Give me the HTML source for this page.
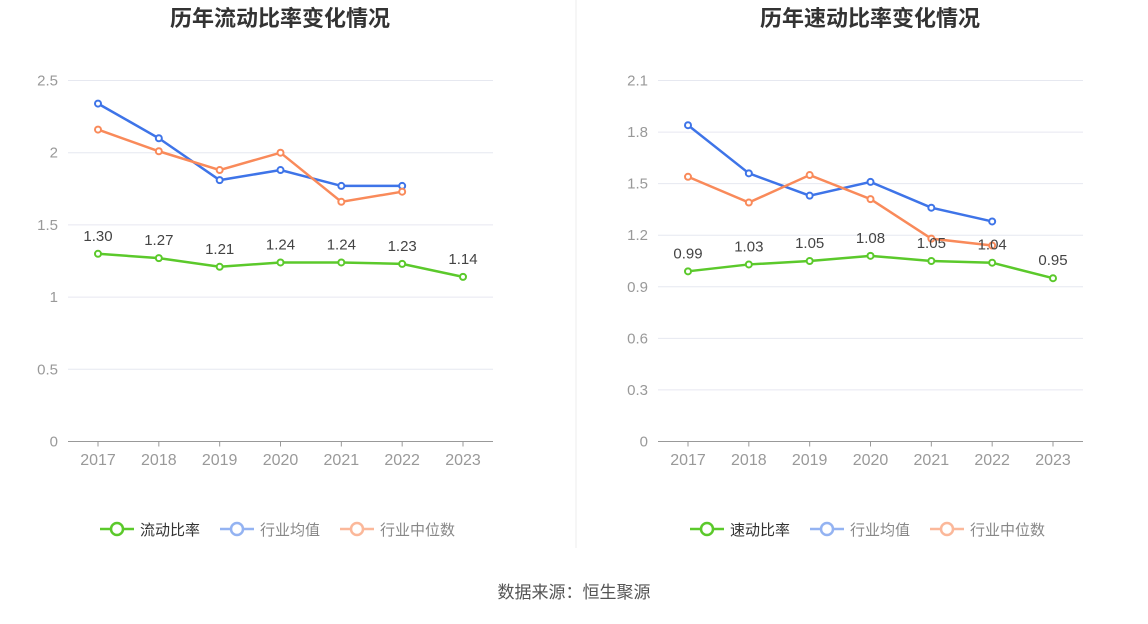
<!DOCTYPE html>
<html><head><meta charset="utf-8">
<style>
body{margin:0;background:#fff;font-family:"Liberation Sans","Noto Sans CJK SC",sans-serif;}
svg text{font-family:"Liberation Sans","Noto Sans CJK SC",sans-serif;}
</style></head>
<body>
<svg id="c" width="1148" height="619" viewBox="0 0 1148 619" xmlns="http://www.w3.org/2000/svg">
<rect width="1148" height="619" fill="#fff"/>
<line x1="576" y1="0" x2="576" y2="548" stroke="#eee" stroke-width="1"/>
<text x="574" y="598" text-anchor="middle" font-size="17" fill="#555">数据来源：恒生聚源</text>
</svg>
<script>
const years=["2017","2018","2019","2020","2021","2022","2023"];
const leftTicks=[0,0.5,1,1.5,2,2.5];
const leftMain=[1.30,1.27,1.21,1.24,1.24,1.23,1.14];
const leftAvg=[2.34,2.10,1.81,1.88,1.77,1.77];
const leftMed=[2.16,2.01,1.88,2.00,1.66,1.73];
const rightTicks=[0,0.3,0.6,0.9,1.2,1.5,1.8,2.1];
const rightMain=[0.99,1.03,1.05,1.08,1.05,1.04,0.95];
const rightAvg=[1.84,1.56,1.43,1.51,1.36,1.28];
const rightMed=[1.54,1.39,1.55,1.41,1.18,1.14];

const svg=document.getElementById('c');
const NS="http://www.w3.org/2000/svg";
function mk(t,a){const e=document.createElementNS(NS,t);for(const k in a)e.setAttribute(k,a[k]);svg.appendChild(e);return e;}

function panel(p,title,mainName,ticks,main,avg,med,fmtTick){
  const x0=p.ax0,x1=p.ax0+425,yb=441.5,yt=80.5,max=ticks[ticks.length-1];
  const X=i=>p.ax0+30+i*(365/6);
  const Y=v=>yb-(v/max)*(yb-yt);
  let t=mk('text',{x:p.cx,y:26,'text-anchor':'middle','font-size':22,'font-weight':'bold',fill:'#333'});
  t.textContent=title;
  
  
  ticks.forEach(v=>{
    const g=mk('line',{x1:x0,x2:x1,y1:Y(v),y2:Y(v),stroke:v===0?'#999':'#e6e8f0','stroke-width':1});
    
    
    const l=mk('text',{x:x0-10,y:Y(v)+5,'text-anchor':'end','font-size':15,fill:'#999'});
    l.textContent=fmtTick(v);
    
    
  });
  years.forEach((yr,i)=>{
    const tk=mk('line',{x1:X(i),x2:X(i),y1:yb,y2:yb+5,stroke:'#999'});
    
    
    const l=mk('text',{x:X(i),y:465,'text-anchor':'middle','font-size':16,fill:'#999'});
    l.textContent=yr;
    
    
  });
  function series(data,color,name,labels){
    const pl=mk('polyline',{points:data.map((v,i)=>X(i)+','+Y(v)).join(' '),fill:'none',stroke:color,'stroke-width':2.5});
    
    
    data.forEach((v,i)=>{
      const c=mk('circle',{cx:X(i),cy:Y(v),r:3,fill:'#fff',stroke:color,'stroke-width':2});
      
      
      if(labels){
        const l=mk('text',{x:X(i),y:Y(v)-13,'text-anchor':'middle','font-size':15,fill:'#444'});
        l.textContent=v.toFixed(2);
        
        
      }
    });
  }
  series(avg,'#3e74e8','avg',false);
  series(med,'#f98a5a','median',false);
  series(main,'#5bc92b','main',true);
  const leg=[[mainName,'#5bc92b','#333'],['行业均值','#94b3f2','#888'],['行业中位数','#fbb89a','#888']];
  let lx=p.cx-180;
  leg.forEach((e,k)=>{
    const ln=mk('line',{x1:lx,x2:lx+34,y1:529,y2:529,stroke:e[1],'stroke-width':2.5});
    
    
    const c=mk('circle',{cx:lx+17,cy:529,r:6,fill:'#fff',stroke:e[1],'stroke-width':2.5});
    
    
    const tx=mk('text',{x:lx+40,y:535,'font-size':15,fill:e[2]});
    tx.textContent=e[0];
    
    
    lx+=120;
  });
}
panel({id:'current-ratio',ax0:68,cx:280},'历年流动比率变化情况','流动比率',leftTicks,leftMain,leftAvg,leftMed,v=>String(v));
panel({id:'quick-ratio',ax0:658,cx:870},'历年速动比率变化情况','速动比率',rightTicks,rightMain,rightAvg,rightMed,v=>v===0?'0':v.toFixed(1));
</script>
</body></html>
